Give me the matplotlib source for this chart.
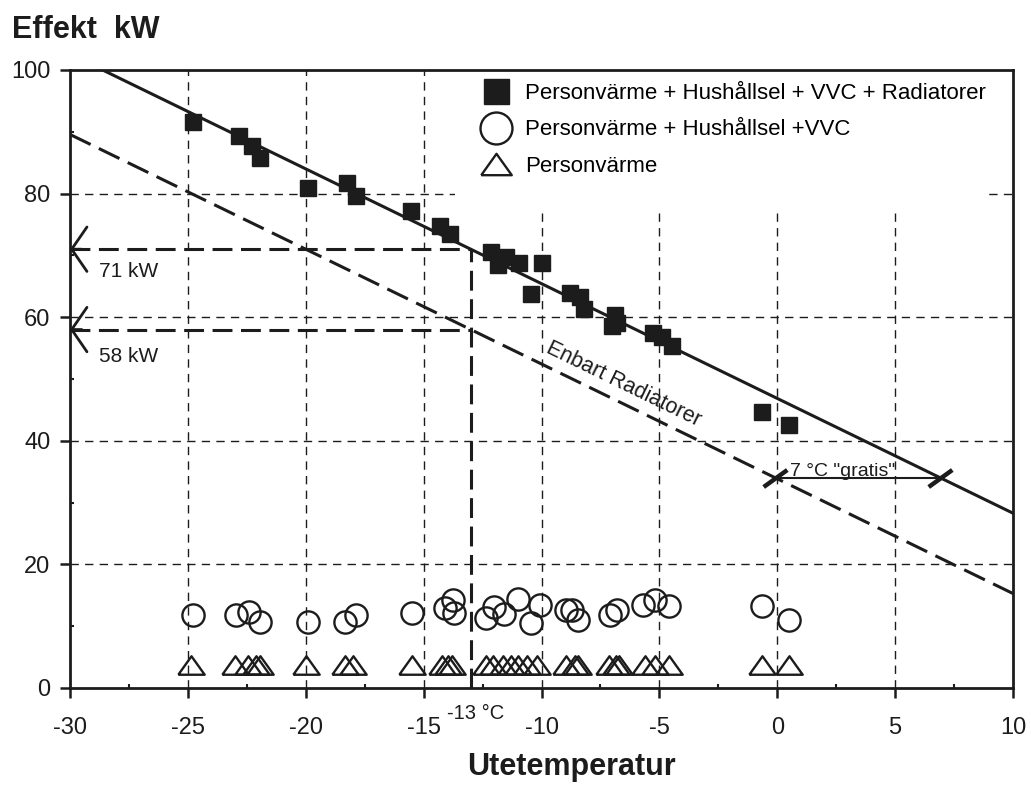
import numpy as np
import matplotlib.pyplot as plt
from matplotlib.lines import Line2D
from matplotlib.path import Path
from matplotlib.patches import Rectangle

plt.rcParams["font.family"] = ["Liberation Sans", "DejaVu Sans"]
plt.rcParams["axes.unicode_minus"] = False

INK = "#1c1c1c"

# Mätpunkter: total effekt (personvärme + hushållsel + VVC + radiatorer)
temp_total = [-24.8, -22.85, -22.3, -21.95, -19.9, -18.25, -17.85, -15.55, -14.3,
              -13.9, -12.15, -11.85, -11.5, -10.95, -10.0, -10.45, -8.8, -8.35,
              -8.2, -6.9, -6.8, -7.0, -5.25, -4.9, -4.45, -0.65, 0.5]
eff_total = [91.6, 89.3, 87.7, 85.7, 80.9, 81.7, 79.6, 77.2, 74.8,
             73.4, 70.6, 68.4, 69.8, 68.7, 68.7, 63.7, 63.9, 63.3,
             61.4, 60.4, 59.0, 58.5, 57.4, 56.8, 55.3, 44.6, 42.6]

# Personvärme + hushållsel + VVC
temp_intern = [-24.8, -22.95, -22.4, -21.95, -19.9, -18.35, -17.85, -15.5, -14.1,
               -13.75, -13.7, -12.35, -12.0, -11.6, -11.0, -10.45, -10.05, -8.95,
               -8.7, -8.45, -7.1, -6.8, -5.7, -5.2, -4.6, -0.65, 0.5]
eff_intern = [11.8, 11.8, 12.3, 10.6, 10.6, 10.7, 11.8, 12.2, 12.9,
              14.2, 12.1, 11.3, 13.1, 12.0, 14.4, 10.5, 13.4, 12.6,
              12.6, 11.0, 11.8, 12.6, 13.4, 14.2, 13.2, 13.2, 11.0]

# Personvärme
temp_person = [-24.85, -23.0, -22.45, -22.1, -21.95, -20.0, -18.35, -18.0, -15.5,
               -14.2, -13.95, -13.8, -12.35, -12.05, -11.65, -11.3, -11.0, -10.6,
               -10.2, -8.95, -8.6, -8.45, -7.15, -6.85, -6.7, -5.6, -5.2, -4.6,
               -0.65, 0.5]
eff_person = [3.8] * len(temp_person)

# Dimensionerande punkt och avläsningar
dim_temp = -13
eff_dim_total = 71
eff_dim_rad = 58
gratis_deg = 7
gratis_level = 34

slope = (eff_dim_total - eff_dim_rad) / gratis_deg


def line_total(t):
    return eff_dim_total - slope * (np.asarray(t) - dim_temp)


def line_rad(t):
    return eff_dim_rad - slope * (np.asarray(t) - dim_temp)


fig = plt.figure(figsize=(10.31, 7.87), dpi=100)
ax = fig.add_axes([70 / 1031, 99 / 787, 943 / 1031, 618 / 787])
ax.set_xlim(-30, 10)
ax.set_ylim(0, 100)

# rutnät
grid_kw = dict(color=INK, lw=1.0, dashes=(6, 4.5), zorder=1)
for gx in [-25, -20, -15, -10, -5, 0, 5]:
    ax.axvline(gx, **grid_kw)
for gy in [20, 40, 60, 80]:
    ax.axhline(gy, **grid_kw)

# vit bakgrund bakom teckenförklaringen
ax.add_patch(Rectangle((0.408, 0.77), 0.562, 0.23, transform=ax.transAxes,
                       facecolor="white", edgecolor="none", zorder=2))

# linjer
tt = np.array([-30, 10])
ax.plot(tt, line_total(tt), color=INK, lw=2.2, zorder=3)
ax.plot(tt, line_rad(tt), color=INK, lw=2.2, dashes=(7.5, 3), zorder=3)

# avläsning vid -13 °C
thick = dict(color=INK, lw=2.2, dashes=(6.5, 2.8), zorder=3)
ax.plot([dim_temp, dim_temp], [0, eff_dim_total], **thick)
ax.plot([-30, dim_temp], [eff_dim_total, eff_dim_total], **thick)
ax.plot([-30, dim_temp], [eff_dim_rad, eff_dim_rad], **thick)
for level in (eff_dim_total, eff_dim_rad):
    ax.annotate("", xy=(-30, level), xytext=(-29.5, level),
                arrowprops=dict(arrowstyle="->,head_length=0.55,head_width=0.8",
                                color=INK, lw=2.0, shrinkA=0, shrinkB=0,
                                mutation_scale=20), zorder=4)
ax.text(-28.75, eff_dim_total - 4.5, f"{eff_dim_total} kW", fontsize=15,
        color=INK, va="baseline")
ax.text(-28.75, eff_dim_rad - 5.2, f"{eff_dim_rad} kW", fontsize=15,
        color=INK, va="baseline")
ax.text(dim_temp + 0.2, -0.042, f"{dim_temp} °C", transform=ax.get_xaxis_transform(),
        ha="center", va="center", fontsize=14.5, color=INK)

# 7 °C "gratis"
t_left = dim_temp + (eff_dim_rad - gratis_level) / slope
t_right = dim_temp + (eff_dim_total - gratis_level) / slope
ax.plot([t_left, t_right], [gratis_level, gratis_level], color=INK, lw=1.5, zorder=3)
slash = Path([(-1, -0.72), (1, 0.72)], [Path.MOVETO, Path.LINETO])
ax.plot([t_left, t_right], [gratis_level, gratis_level], ls="none", marker=slash,
        ms=17, mew=3.2, mec=INK, zorder=4)
ax.text(t_left + 0.6, gratis_level + 0.35, f'{gratis_deg} °C "gratis"', fontsize=14,
        color=INK, va="baseline")

ax.text(-6.5, 49.2, "Enbart Radiatorer", fontsize=15.5, color=INK, rotation=-26,
        ha="center", va="center", rotation_mode="anchor")

# mätpunkter
tri = [(-1, -0.7), (1, -0.7), (0, 0.7), (-1, -0.7)]
ax.plot(temp_total, eff_total, ls="none", marker="s", ms=11.5, mfc=INK, mec=INK,
        zorder=5)
ax.plot(temp_intern, eff_intern, ls="none", marker="o", ms=16, mfc="none", mec=INK,
        mew=1.7, zorder=5)
ax.plot(temp_person, eff_person, ls="none", marker=tri, ms=19, mfc="none", mec=INK,
        mew=1.7, zorder=5)

handles = [
    Line2D([], [], ls="none", marker="s", ms=18, mfc=INK, mec=INK),
    Line2D([], [], ls="none", marker="o", ms=23, mfc="none", mec=INK, mew=1.7),
    Line2D([], [], ls="none", marker=tri, ms=22, mfc="none", mec=INK, mew=1.7),
]
labels = ["Personvärme + Hushållsel + VVC + Radiatorer",
          "Personvärme + Hushållsel +VVC",
          "Personvärme"]
leg = ax.legend(handles, labels, loc="upper left", bbox_to_anchor=(0.431, 0.990),
                borderaxespad=0, borderpad=0.3, fontsize=16, handlelength=1.2,
                handletextpad=0.7, labelspacing=0.7, frameon=False)
leg.set_zorder(5)

# axlar
for sp in ax.spines.values():
    sp.set_linewidth(2.0)
    sp.set_color(INK)
    sp.set_zorder(6)
ax.set_xticks(range(-30, 11, 5))
ax.set_yticks(range(0, 101, 20))
ax.set_xticks(np.arange(-27.5, 10, 5), minor=True)
ax.set_yticks(range(10, 100, 20), minor=True)
ax.tick_params(which="major", direction="out", length=7, width=1.8, colors=INK,
               labelsize=17)
ax.tick_params(axis="x", which="major", pad=14)
ax.tick_params(axis="y", which="major", pad=7)
ax.tick_params(which="minor", direction="in", length=3, width=1.5, colors=INK)

fig.text(12 / 1031, 1 - 37.5 / 787, "Effekt  kW", fontsize=22, fontweight="bold",
         color=INK, va="baseline")
fig.text(571 / 1031, 12 / 787, "Utetemperatur", fontsize=22, fontweight="bold",
         color=INK, va="baseline", ha="center")

fig.savefig("out.png", dpi=100, facecolor="white")
